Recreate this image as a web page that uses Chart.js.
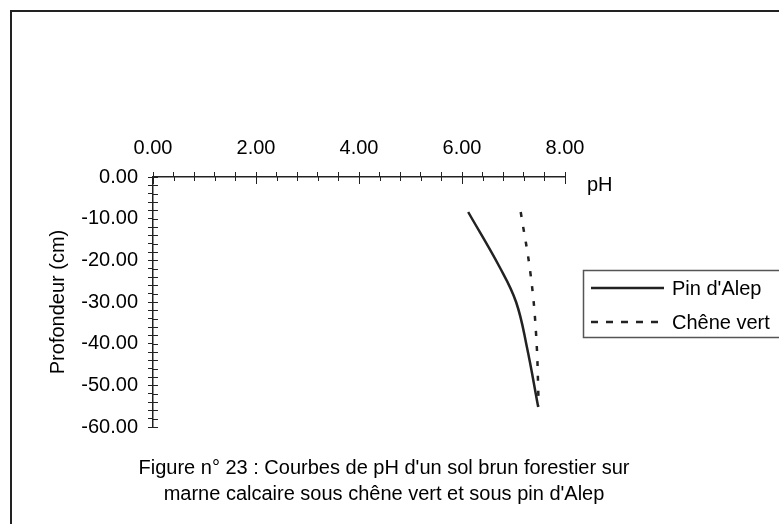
<!DOCTYPE html>
<html>
<head>
<meta charset="utf-8">
<script src="https://cdn.jsdelivr.net/npm/chart.js@4.4.0/dist/chart.umd.min.js"></script>
<style>
  html, body { margin: 0; padding: 0; background: #fff; }
  #wrap { position: relative; width: 779px; height: 524px; overflow: hidden; }
  #frame {
    position: absolute; left: 10px; top: 10px; width: 820px; height: 600px;
    border: 2px solid #222; pointer-events: none;
  }
  canvas { position: absolute; left: 0; top: 0; }
</style>
</head>
<body>
<div id="wrap">
  <canvas id="chart" width="779" height="524"></canvas>
  <div id="frame"></div>
</div>
<script>
// values
const pinDepth = [-8.4, -21.6, -30, -40.8, -55.2];
const pinPh = [6.12, 6.73, 7.05, 7.26, 7.48];
const cheneDepth = [-8.4, -23.2, -38, -55];
const chenePh = [7.14, 7.33, 7.44, 7.49];

const seriesNames = ["Pin d'Alep", "Chêne vert"];
const xTitle = 'pH';
const yTitle = 'Profondeur (cm)';
const captionLines = [
    "Figure n° 23 : Courbes de pH d'un sol brun forestier sur",
    "marne calcaire sous chêne vert et sous pin d'Alep",
];

const FONT = "'Liberation Sans', Arial, sans-serif";
const INK = '#222';

function toPoints(xs, ys) {
    return xs.map((v, i) => ({ x: v, y: ys[i] }));
}

// ticks crossing the axis line, plus legend, "pH" and the caption
const extras = {
    id: 'extras',
    afterDraw(chart) {
        const { ctx, chartArea, scales: { x, y } } = chart;
        ctx.save();
        ctx.strokeStyle = INK;
        ctx.lineWidth = 1;
        ctx.beginPath();
        x.ticks.forEach(t => {
            const px = Math.round(x.getPixelForValue(t.value)) + 0.5;
            const major = t.label !== '';
            ctx.moveTo(px, chartArea.top);
            ctx.lineTo(px, chartArea.top + (major ? 7 : 4));
        });
        y.ticks.forEach(t => {
            const py = Math.round(y.getPixelForValue(t.value)) + 0.5;
            ctx.moveTo(chartArea.left, py);
            ctx.lineTo(chartArea.left + 5, py);
        });
        ctx.stroke();

        ctx.fillStyle = '#000';
        ctx.font = '20px ' + FONT;
        ctx.textBaseline = 'alphabetic';
        ctx.textAlign = 'left';
        ctx.fillText(xTitle, 587, 191);

        // legend
        ctx.strokeStyle = '#555';
        ctx.lineWidth = 1.5;
        ctx.strokeRect(583.5, 270.5, 240, 67);
        const rows = [288, 322];
        chart.data.datasets.forEach((ds, i) => {
            ctx.strokeStyle = ds.borderColor;
            ctx.lineWidth = ds.borderWidth;
            ctx.setLineDash(ds.borderDash ? [7, 8] : []);
            ctx.beginPath();
            ctx.moveTo(591, rows[i]);
            ctx.lineTo(664, rows[i]);
            ctx.stroke();
            ctx.setLineDash([]);
            ctx.textBaseline = 'middle';
            ctx.fillText(ds.label, 672, rows[i] + 1);
        });

        ctx.textAlign = 'center';
        ctx.textBaseline = 'alphabetic';
        ctx.fillText(captionLines[0], 384, 474);
        ctx.fillText(captionLines[1], 384, 500);
        ctx.restore();
    }
};

const isMultiple = (v, step) => Math.abs(v / step - Math.round(v / step)) < 1e-6;

new Chart(document.getElementById('chart'), {
    type: 'scatter',
    data: {
        datasets: [
            {
                label: seriesNames[0],
                data: toPoints(pinPh, pinDepth),
                showLine: true,
                borderColor: INK,
                borderWidth: 2.5,
                pointRadius: 0,
                tension: 0.4,
            },
            {
                label: seriesNames[1],
                data: toPoints(chenePh, cheneDepth),
                showLine: true,
                borderColor: INK,
                borderWidth: 2.5,
                borderDash: [5, 10],
                pointRadius: 0,
                tension: 0.4,
            },
        ],
    },
    options: {
        responsive: false,
        animation: false,
        events: [],
        layout: { padding: { left: 0, top: 0, right: 214, bottom: 97 } },
        plugins: {
            legend: { display: false },
            tooltip: { enabled: false },
        },
        scales: {
            x: {
                type: 'linear',
                position: 'top',
                min: 0,
                max: 8,
                afterFit(s) { s.height = 177; },
                ticks: {
                    stepSize: 0.4,
                    autoSkip: false,
                    maxRotation: 0,
                    padding: 12,
                    color: '#000',
                    font: { family: FONT, size: 20 },
                    callback: v => isMultiple(v, 2) ? v.toFixed(2) : '',
                },
                grid: { drawOnChartArea: false, tickLength: 5, color: INK },
                border: { color: INK, width: 1.5 },
            },
            y: {
                type: 'linear',
                position: 'left',
                min: -60,
                max: 0,
                afterFit(s) { s.width = 153; },
                ticks: {
                    stepSize: 2,
                    autoSkip: false,
                    padding: 10,
                    color: '#000',
                    font: { family: FONT, size: 20 },
                    callback: v => isMultiple(v, 10) ? v.toFixed(2) : '',
                },
                title: {
                    display: true,
                    text: yTitle,
                    color: '#000',
                    font: { family: FONT, size: 20 },
                    padding: { top: 46, bottom: 0 },
                },
                grid: { drawOnChartArea: false, tickLength: 5, color: INK },
                border: { color: INK, width: 1.5 },
            },
        },
    },
    plugins: [extras],
});
</script>
</body>
</html>
